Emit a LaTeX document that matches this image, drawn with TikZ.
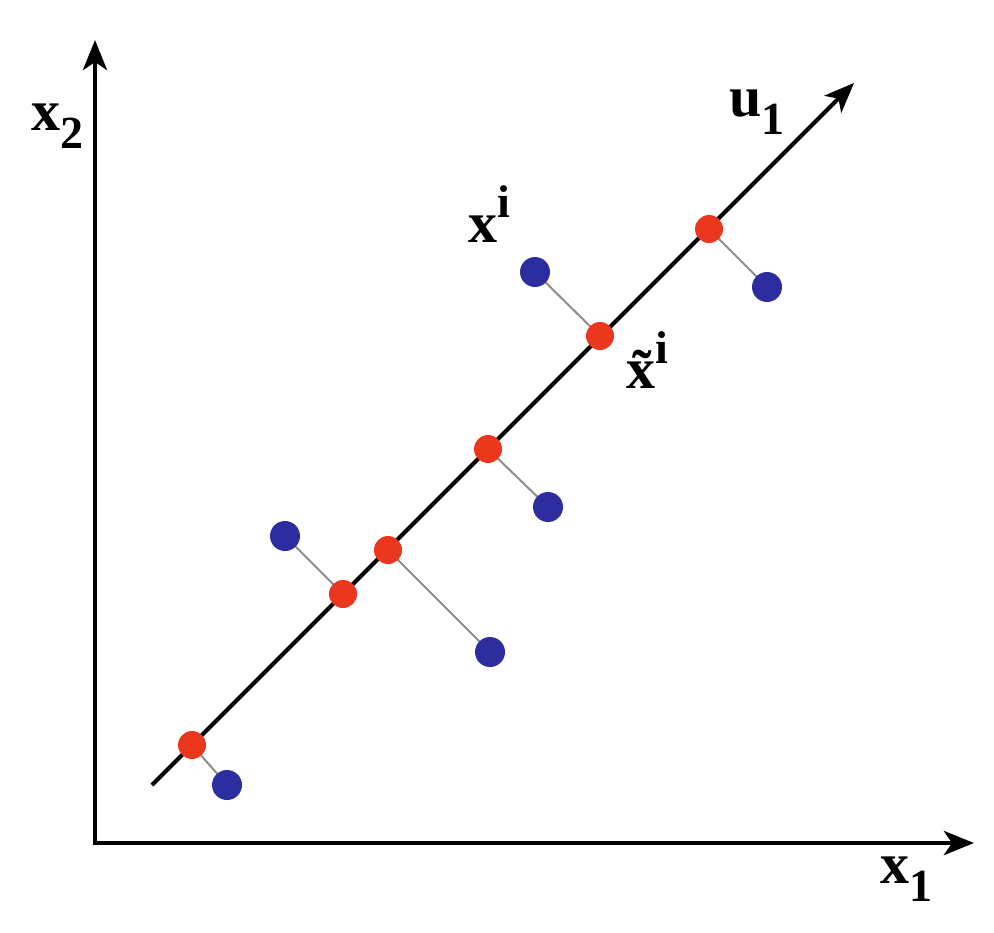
\documentclass[tikz,border=0pt]{standalone}
\usepackage{fontspec}
\setmainfont{Liberation Serif}
\usetikzlibrary{arrows.meta}
\definecolor{pred}{RGB}{235,55,30}
\definecolor{pblue}{RGB}{45,45,160}
\definecolor{plink}{RGB}{140,140,140}
\tikzset{
  axis/.style={line width=2.4pt,-{Stealth[length=15pt,width=12pt,inset=4pt]}},
  proj/.style={circle,fill=pred,inner sep=0pt,minimum size=14pt},
  orig/.style={circle,fill=pblue,inner sep=0pt,minimum size=15pt},
  link/.style={plink,line width=1pt},
  lbl/.style={font=\fontsize{29}{31}\selectfont\bfseries,inner sep=0pt}
}
\newcommand{\lsub}[2]{#1\raisebox{-0.32em}{\fontsize{23}{25}\selectfont #2}}
\newcommand{\lsup}[2]{#1\raisebox{0.42em}{\fontsize{23}{25}\selectfont #2}}
\begin{document}
\begin{tikzpicture}[x=0.5pt,y=-0.5pt]
\useasboundingbox (0,0) rectangle (994,932);
% axes
\coordinate (O) at (95,843);
\coordinate (Ytip) at (95,40);
\coordinate (Xtip) at (974,843);
\draw[axis] (95,845) -- (Ytip);
\draw[axis] (93,843) -- (Xtip);
% principal direction
\coordinate (Ls) at (152,785);
\coordinate (Le) at (854,83);
\draw[axis,line width=2.1pt] (Ls) -- (Le);
% points
\foreach \n/\rx/\ry/\bx/\by in {a/192/745/227/785, b/343/594/285/536, c/388/550/490/652, d/488/449/548/507, e/600/336/535/272, f/709/229/767/287}{
  \coordinate (r\n) at (\rx,\ry);
  \coordinate (b\n) at (\bx,\by);
  \draw[link] (r\n) -- (b\n);
}
\foreach \n in {a,b,c,d,e,f}{
  \node[proj] (R\n) at (r\n) {};
  \node[orig] (B\n) at (b\n) {};
}
% labels
\node[lbl] (lx2) at (57,126) {\lsub{x}{2}};
\node[lbl] (lx1) at (906,879) {\lsub{x}{1}};
\node[lbl] (lu1) at (757,112) {\lsub{u}{1}};
\node[lbl] (lxi) at (489,214) {\lsup{x}{i}};
\node[lbl] (lxt) at (647,360) {\lsup{\~{x}}{i}};
\end{tikzpicture}
\end{document}
